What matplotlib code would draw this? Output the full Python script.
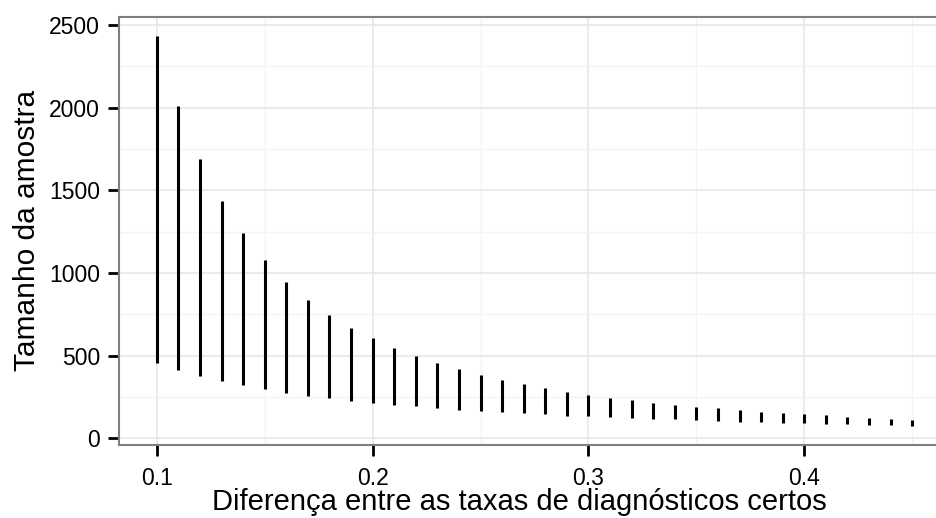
import numpy as np
import matplotlib
matplotlib.use("Agg")
import matplotlib.pyplot as plt
from matplotlib.ticker import MultipleLocator, FuncFormatter

plt.rcParams['font.family'] = ['Liberation Sans', 'DejaVu Sans']

# diferença entre as taxas e intervalo do tamanho da amostra
diferenca = [0.10, 0.11, 0.12, 0.13, 0.14, 0.15, 0.16, 0.17, 0.18, 0.19,
             0.20, 0.21, 0.22, 0.23, 0.24, 0.25, 0.26, 0.27, 0.28, 0.29,
             0.30, 0.31, 0.32, 0.33, 0.34, 0.35, 0.36, 0.37, 0.38, 0.39,
             0.40, 0.41, 0.42, 0.43, 0.44, 0.45]
n_min = [457, 413, 377, 345, 321, 296, 274, 258, 242, 227,
         215, 204, 194, 181, 173, 165, 157, 151, 145, 137,
         133, 127, 121, 117, 114, 109, 105, 100, 97, 93,
         91, 87, 85, 82, 79, 76]
n_max = [2433, 2010, 1687, 1437, 1240, 1077, 945, 836, 746, 669,
         605, 546, 496, 454, 417, 383, 353, 327, 302, 282,
         264, 246, 231, 216, 204, 191, 181, 171, 161, 153,
         145, 139, 131, 125, 118, 113]

fig = plt.figure(figsize=(9.36, 5.18), dpi=100)
W, H = 936, 518
# o painel continua além da borda direita da imagem
ax = fig.add_axes([119 / W, (H - 445) / H, (950 - 119) / W, (445 - 16.7) / H])

ax.vlines(diferenca, n_min, n_max, colors='black', linewidth=2.2, capstyle='butt', zorder=3)

ax.set_xlim(0.0825, 0.4675)
ax.set_ylim(-40.5, 2551)

ax.xaxis.set_major_locator(MultipleLocator(0.1))
ax.xaxis.set_minor_locator(MultipleLocator(0.05))
ax.yaxis.set_major_locator(MultipleLocator(500))
ax.yaxis.set_minor_locator(MultipleLocator(250))
ax.xaxis.set_major_formatter(FuncFormatter(lambda v, p: f"{v:.1f}"))

ax.grid(which='major', color='#E6E6E6', linewidth=1.2, zorder=0)
ax.grid(which='minor', color='#F4F4F4', linewidth=1.0, zorder=0)
ax.set_axisbelow(True)

for s in ax.spines.values():
    s.set_color('#7F7F7F')
    s.set_linewidth(1.5)

ax.tick_params(which='major', length=8, width=2, color='black', labelsize=16.5)
ax.tick_params(axis='x', pad=7.5)
ax.tick_params(axis='y', pad=5.5)
ax.tick_params(which='minor', length=0)

ax.set_xlabel('Diferença entre as taxas de diagnósticos certos', fontsize=21)
ax.set_ylabel('Tamanho da amostra', fontsize=21.5)
ax.xaxis.set_label_coords((519.5 - 119) / 831, -(487.5 - 445) / 428.3)
ax.yaxis.set_label_coords((41 - 119) / 831, 0.5)

fig.savefig('out.png', dpi=100)
